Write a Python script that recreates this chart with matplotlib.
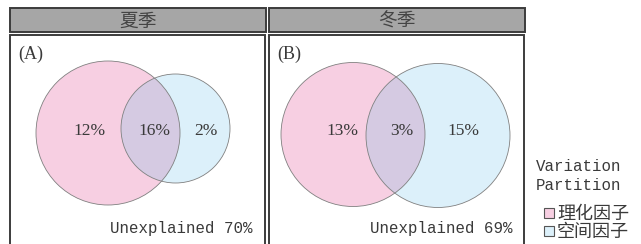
import matplotlib
matplotlib.use("Agg")
import matplotlib.pyplot as plt
from matplotlib.patches import Circle, Rectangle

# datos
seasons = ["夏季", "冬季"]
panel_tags = ["(A)", "(B)"]
physchem_only = [12, 13]
shared = [16, 3]
spatial_only = [2, 15]
unexplained = [70, 69]
legend_title = "Variation\nPartition"
legend_labels = ["理化因子", "空间因子"]

# colores
pink = "#f7cfe2"
blue = "#dcf0fa"
overlap = "#d5cae2"
strip_gray = "#a6a6a6"
frame = "#3c3c3c"
txt = "#3a3a3a"

mono = ["Liberation Mono", "Noto Sans CJK SC"]
serif = ["Liberation Serif", "Noto Sans CJK SC"]
cjk = ["Noto Sans CJK SC", "DejaVu Sans"]

# posiciones en pixeles (figura 641x244)
strip_x = [(10, 266), (269, 525)]
venn = [  # (pink cx, cy, r), (blue cx, cy, r)
    ((108, 133, 72), (175.5, 128.5, 54.5)),
    ((353, 134.5, 72), (438, 135.5, 72)),
]
label_x = [(89.5, 154, 205.5), (342, 402, 463)]

fig = plt.figure(figsize=(6.41, 2.44), dpi=100)
ax = fig.add_axes([0, 0, 1, 1])
ax.set_xlim(0, 641)
ax.set_ylim(244, 0)
ax.axis("off")

for i in range(2):
    x0, x1 = strip_x[i]
    # tira superior
    ax.add_patch(Rectangle((x0, 7.5), x1 - x0, 24.5, facecolor=strip_gray,
                           edgecolor=frame, lw=1.4))
    ax.text((x0 + x1) / 2, 21, seasons[i], ha="center", va="center",
            fontsize=13.5, family=cjk, color="#444444")
    # marco del panel
    ax.add_patch(Rectangle((x0, 35), x1 - x0 - 1, 215, facecolor="white",
                           edgecolor=frame, lw=1.4))
    ax.text(x0 + 8, 54, panel_tags[i], ha="left", va="center",
            fontsize=13, family=serif, color=txt)

    (pcx, pcy, pr), (bcx, bcy, br) = venn[i]
    cp = Circle((pcx, pcy), pr, facecolor=pink, edgecolor="none", zorder=2)
    cb = Circle((bcx, bcy), br, facecolor=blue, edgecolor="none", zorder=2)
    ax.add_patch(cp)
    ax.add_patch(cb)
    co = Circle((bcx, bcy), br, facecolor=overlap, edgecolor="none", zorder=3)
    ax.add_patch(co)
    co.set_clip_path(cp)
    for c in [(pcx, pcy, pr), (bcx, bcy, br)]:
        ax.add_patch(Circle((c[0], c[1]), c[2], facecolor="none",
                            edgecolor="#808080", lw=0.6, zorder=4))

    vals = [physchem_only[i], shared[i], spatial_only[i]]
    for xv, v in zip(label_x[i], vals):
        ax.text(xv, 131, f"{v}%", ha="center", va="center", fontsize=12.5,
                family=serif, color=txt, zorder=5)
    ax.text(x1 - 13, 228, f"Unexplained {unexplained[i]}%", ha="right",
            va="center", fontsize=11.3, family=mono, color=txt, zorder=5)

# leyenda
ax.text(536, 176, legend_title, ha="left", va="center", fontsize=11.3,
        family=mono, color=txt, linespacing=1.3)
for j, (lab, col) in enumerate(zip(legend_labels, [pink, blue])):
    y = 213 + j * 18
    ax.add_patch(Rectangle((544, y - 5), 10, 10, facecolor=col,
                           edgecolor="#555555", lw=0.8))
    ax.text(557, y + 1, lab, ha="left", va="center", fontsize=13,
            family=cjk, color=txt)

fig.savefig("out.png", dpi=100)
